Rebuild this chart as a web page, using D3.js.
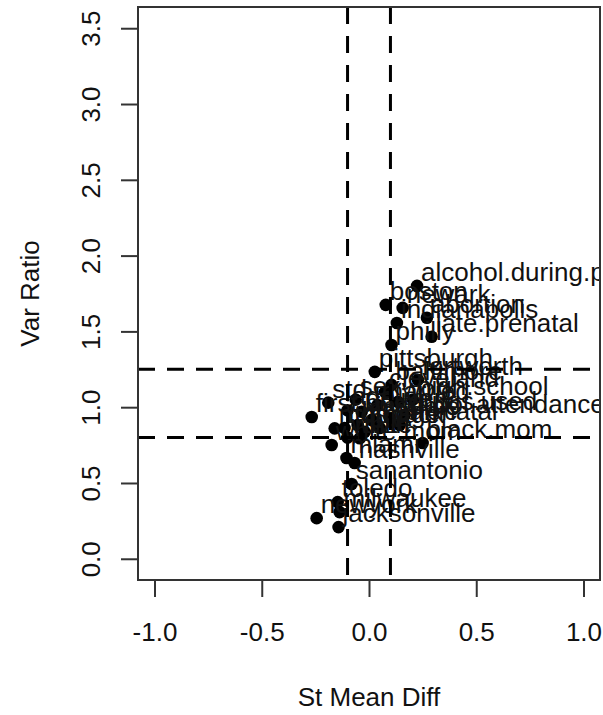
<!DOCTYPE html>
<html>
<head>
<meta charset="utf-8">
<script src="https://cdn.jsdelivr.net/npm/d3@7"></script>
<style>
  html, body { margin: 0; padding: 0; background: #fff; }
  svg { display: block; font-family: "Liberation Sans", Arial, Helvetica, sans-serif; }
</style>
</head>
<body>
<div id="chart"></div>
<script>
// ── Data ──────────────────────────────────────────────────────────────────────
const covariates = [
  'alcohol.during.pregnancy', 'boston', 'newark', 'indianapolis', 'abortion',
  'late.prenatal', 'philly', 'pittsburgh', 'fortworth', 'baltimore',
  'cleveland', 'high.school', 'std', 'sex', 'age', 'delivery', 'first.born',
  'married', 'work', 'drugs.used', 'school.attendance', 'income', 'hispanic',
  'lths', 'momage', 'black', 'bw', 'black.mom', 'white', 'twin', 'prenatal',
  'white.mom', 'nashville', 'miami', 'sanantonio', 'toledo', 'milwaukee',
  'newyork', 'jacksonville'
];
const stMeanDiff = [
  0.224, 0.078, 0.157, 0.130, 0.270,
  0.292, 0.105, 0.027, 0.228, 0.105,
  0.075, 0.205, -0.190, -0.062, -0.100, -0.034, -0.267,
  0.040, 0.135, 0.166, 0.096, 0.013, -0.053,
  -0.114, -0.160, 0.050, -0.020, 0.250, -0.100, -0.043, 0.143,
  -0.174, -0.067, -0.105, -0.081, -0.146, -0.137,
  -0.244, -0.142
];
const varRatio = [
  1.80, 1.675, 1.655, 1.555, 1.590,
  1.465, 1.410, 1.233, 1.180, 1.147,
  1.100, 1.050, 1.030, 1.050, 0.980, 0.970, 0.935,
  1.014, 1.035, 0.948, 0.930, 0.916, 0.883,
  0.863, 0.860, 0.863, 0.837, 0.764, 0.800, 0.795, 0.883,
  0.751, 0.632, 0.665, 0.493, 0.374, 0.308,
  0.268, 0.209
];
const xTicks = [-1.0, -0.5, 0.0, 0.5, 1.0];
const yTicks = [0.0, 0.5, 1.0, 1.5, 2.0, 2.5, 3.0, 3.5];
const smdCutoffs = [-0.1, 0.1];
const ratioCutoffs = [0.8, 1.25];

const points = covariates.map((name, i) => ({ name, x: stMeanDiff[i], y: varRatio[i] }));

// R prints a plain hyphen for negatives
const fmt = d => d3.format('.1f')(d).replace('\u2212', '-');

// ── SVG setup ─────────────────────────────────────────────────────────────────
const W = 603, H = 715;
const box = { left: 138, right: 600, top: 7, bottom: 580 };

const svg = d3.select('#chart')
  .append('svg')
  .attr('width', W)
  .attr('height', H);

const x = d3.scaleLinear().domain([-1.077, 1.077]).range([box.left, box.right]);
const y = d3.scaleLinear().domain([-0.14, 3.64]).range([box.bottom, box.top]);

svg.append('defs')
  .append('clipPath')
  .attr('id', 'plot-clip')
  .append('rect')
  .attr('x', box.left).attr('y', box.top)
  .attr('width', box.right - box.left)
  .attr('height', box.bottom - box.top);

const plot = svg.append('g').attr('clip-path', 'url(#plot-clip)');

// ── Points + labels ───────────────────────────────────────────────────────────
plot.append('g')
  .selectAll('circle')
  .data(points)
  .join('circle')
  .attr('cx', d => x(d.x))
  .attr('cy', d => y(d.y))
  .attr('r', 6.3)
  .attr('fill', '#000');

plot.append('g')
  .selectAll('text')
  .data(points)
  .join('text')
  .attr('x', d => x(d.x) + 4)
  .attr('y', d => y(d.y) - 5)
  .attr('font-size', 26)
  .attr('fill', '#111')
  .text(d => d.name);

// ── Cutoff lines ──────────────────────────────────────────────────────────────
plot.append('g')
  .selectAll('line')
  .data(smdCutoffs)
  .join('line')
  .attr('x1', d => x(d)).attr('x2', d => x(d))
  .attr('y1', box.top).attr('y2', box.bottom)
  .attr('stroke', '#000')
  .attr('stroke-width', 3)
  .attr('stroke-dasharray', '17,12');

plot.append('g')
  .selectAll('line')
  .data(ratioCutoffs)
  .join('line')
  .attr('x1', box.left).attr('x2', box.right)
  .attr('y1', d => y(d)).attr('y2', d => y(d))
  .attr('stroke', '#000')
  .attr('stroke-width', 3)
  .attr('stroke-dasharray', '17,12');

// ── Box + axes ────────────────────────────────────────────────────────────────
svg.append('rect')
  .attr('x', box.left).attr('y', box.top)
  .attr('width', box.right - box.left)
  .attr('height', box.bottom - box.top)
  .attr('fill', 'none')
  .attr('stroke', '#333')
  .attr('stroke-width', 2);

const xAxis = svg.append('g')
  .attr('transform', `translate(0,${box.bottom})`)
  .call(d3.axisBottom(x).tickValues(xTicks).tickFormat(fmt).tickSize(17).tickPadding(26));

const yAxis = svg.append('g')
  .attr('transform', `translate(${box.left},0)`)
  .call(d3.axisLeft(y).tickValues(yTicks).tickFormat(fmt).tickSize(17).tickPadding(0));

[xAxis, yAxis].forEach(ax => {
  ax.select('.domain').remove();
  ax.selectAll('.tick line').attr('stroke', '#333').attr('stroke-width', 2);
  ax.selectAll('.tick text')
    .attr('font-size', 26)
    .attr('font-family', '"Liberation Sans", Arial, sans-serif')
    .attr('fill', '#111');
});

// R draws the axis line only between the outer ticks
svg.append('line')
  .attr('x1', x(xTicks[0])).attr('x2', x(xTicks[xTicks.length - 1]))
  .attr('y1', box.bottom).attr('y2', box.bottom)
  .attr('stroke', '#333').attr('stroke-width', 2);
svg.append('line')
  .attr('x1', box.left).attr('x2', box.left)
  .attr('y1', y(yTicks[0])).attr('y2', y(yTicks[yTicks.length - 1]))
  .attr('stroke', '#333').attr('stroke-width', 2);

// y tick labels run parallel to the axis
yAxis.selectAll('.tick text')
  .attr('x', 0)
  .attr('dy', null)
  .attr('text-anchor', 'middle')
  .attr('transform', 'translate(-38,0) rotate(-90)');

// ── Axis titles ───────────────────────────────────────────────────────────────
svg.append('text')
  .attr('x', (box.left + box.right) / 2)
  .attr('y', 706)
  .attr('text-anchor', 'middle')
  .attr('font-size', 26)
  .attr('fill', '#111')
  .text('St Mean Diff');

svg.append('text')
  .attr('transform', `translate(39,${(box.top + box.bottom) / 2}) rotate(-90)`)
  .attr('text-anchor', 'middle')
  .attr('font-size', 26)
  .attr('fill', '#111')
  .text('Var Ratio');
</script>
</body>
</html>
